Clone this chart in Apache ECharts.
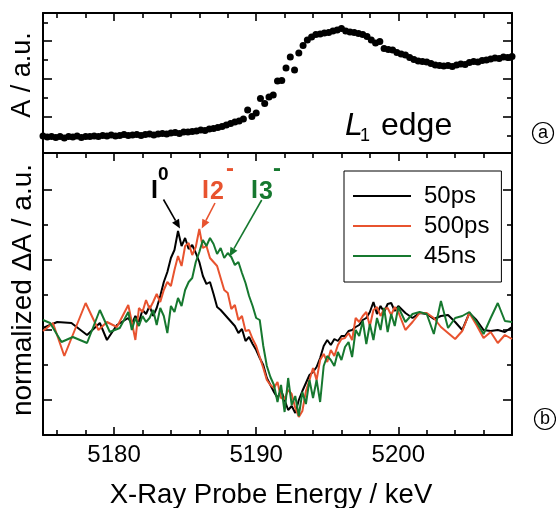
<!DOCTYPE html>
<html><head><meta charset="utf-8">
<script src="https://cdn.jsdelivr.net/npm/echarts@6/dist/echarts.min.js"></script>
<style>html,body{margin:0;padding:0;background:#fff}#c{width:556px;height:508px}</style>
</head><body><div id="c"></div>
<script>
const FONT = "'Liberation Sans', Arial, sans-serif";
const X_MIN = 5175, X_MAX = 5208;
const xMajorTicks = [5180, 5190, 5200];
const xMinorTicks = [5176, 5178, 5182, 5184, 5186, 5188, 5192, 5194, 5196, 5198, 5202, 5204, 5206];
const xTickLabels = [5180, 5190, 5200];

// top panel: absorption A (a.u.)
const TOP_MIN = -0.16, TOP_MAX = 1.24;
const topLongTicks = [0.202, 0.58, 0.958];
const topShortTicks = [0.013, 0.391, 0.769, 1.147];
const topEnergy = [5175.0,5175.3,5175.6,5175.9,5176.2,5176.5,5176.8,5177.1,5177.4,5177.7,5178.0,5178.3,5178.6,5178.9,5179.2,5179.5,5179.8,5180.1,5180.4,5180.7,5181.0,5181.3,5181.6,5181.9,5182.2,5182.5,5182.8,5183.1,5183.4,5183.7,5184.0,5184.3,5184.6,5184.9,5185.2,5185.5,5185.8,5186.1,5186.4,5186.7,5187.0,5187.3,5187.6,5187.9,5188.2,5188.5,5188.8,5189.1,5189.4,5189.7,5190.0,5190.3,5190.6,5190.9,5191.2,5191.5,5191.8,5192.1,5192.4,5192.7,5193.0,5193.3,5193.6,5193.9,5194.2,5194.5,5194.8,5195.1,5195.4,5195.7,5196.0,5196.3,5196.6,5196.9,5197.2,5197.5,5197.8,5198.1,5198.4,5198.7,5199.0,5199.3,5199.6,5199.9,5200.2,5200.5,5200.8,5201.1,5201.4,5201.7,5202.0,5202.3,5202.6,5202.9,5203.2,5203.5,5203.8,5204.1,5204.4,5204.7,5205.0,5205.3,5205.6,5205.9,5206.2,5206.5,5206.8,5207.1,5207.4,5207.7,5208.0];
const topAbsorbance = [0.01,0.00,0.005,-0.005,0.005,-0.01,0.005,0.00,0.01,-0.005,0.005,
  0.005,0.01,0.005,0.015,0.01,0.02,0.01,0.015,0.025,0.015,
  0.02,0.025,0.015,0.025,0.03,0.02,0.03,0.035,0.03,0.04,
  0.045,0.035,0.05,0.05,0.055,0.06,0.07,0.065,0.08,0.085,
  0.095,0.105,0.12,0.135,0.15,0.16,0.18,0.27,0.205,0.24,
  0.385,0.335,0.40,0.42,0.56,0.565,0.69,0.80,0.67,0.84,
  0.915,0.97,1.00,1.025,1.03,1.04,1.045,1.06,1.07,1.085,
  1.06,1.05,1.045,1.035,1.025,1.005,0.97,0.94,0.955,0.885,
  0.875,0.87,0.845,0.83,0.82,0.795,0.775,0.76,0.755,0.75,
  0.735,0.72,0.715,0.71,0.715,0.705,0.72,0.73,0.725,0.745,
  0.755,0.75,0.765,0.77,0.78,0.79,0.785,0.80,0.795,0.805];

// bottom panel: normalized dA (a.u.)
const BOT_MIN = -1.10, BOT_MAX = 1.72;
const botLongTicks = [-0.75, -0.05, 0.65, 1.35];
const botShortTicks = [-0.40, 0.30, 1.00];
const seriesNames = ['50ps', '500ps', '45ns'];
const preEnergy50 = [5175.0, 5176.0, 5177.0, 5178.1, 5179.0, 5179.5, 5180.2];
const preDA50 = [-0.03, 0.03, 0.02, -0.10, 0.02, -0.15, 0.00];
const preEnergy500 = [5175.0, 5175.7, 5176.5, 5178.0, 5178.9, 5179.5, 5180.2];
const preDA500 = [-0.06, 0.02, -0.31, 0.22, -0.05, 0.03, -0.02];
const preEnergy45 = [5175.0, 5175.5, 5176.3, 5177.1, 5178.1, 5179.0, 5179.7, 5180.4];
const preDA45 = [0.05, 0.02, -0.17, -0.12, -0.18, 0.15, -0.07, -0.03];
const scanEnergy = [5181.00,5181.25,5181.50,5181.75,5182.00,5182.25,5182.50,5182.75,5183.00,5183.25,5183.50,5183.75,5184.00,5184.25,5184.50,5184.75,5185.00,5185.25,5185.50,5185.75,5186.00,5186.25,5186.50,5186.75,5187.00,5187.25,5187.50,5187.75,5188.00,5188.25,5188.50,5188.75,5189.00,5189.25,5189.50,5189.75,5190.00,5190.25,5190.50,5190.75,5191.00,5191.25,5191.50,5191.75,5192.00,5192.25,5192.50,5192.75,5193.00,5193.25,5193.50,5193.75,5194.00,5194.25,5194.50,5194.75,5195.00,5195.25,5195.50,5195.75,5196.00,5196.25,5196.50,5196.75,5197.00,5197.25,5197.50,5197.75,5198.00,5198.25,5198.50,5198.75,5199.00,5199.25,5199.50,5199.75,5200.00,
  5200.5,5201.0,5201.5,5202.0,5202.5,5203.0,5203.5,5204.0,5204.5,5205.0,5205.5,5206.0,5206.5,5207.0,5207.5,5208.0];
const scanDA50 = [0.07,0.01,0.09,0.03,0.15,0.11,0.19,0.09,0.17,0.29,
  0.43,0.53,0.67,0.75,0.94,0.79,0.87,0.76,0.80,0.72,
  0.63,0.49,0.41,0.43,0.31,0.18,0.15,0.11,0.07,0.03,
  -0.01,-0.08,-0.04,-0.16,-0.12,-0.19,-0.25,-0.33,-0.40,-0.53,
  -0.60,-0.67,-0.73,-0.65,-0.75,-0.85,-0.81,-0.88,-0.75,-0.66,
  -0.58,-0.50,-0.47,-0.42,-0.33,-0.21,-0.15,-0.20,-0.14,-0.16,
  -0.11,-0.11,-0.06,-0.05,-0.02,0.00,0.05,0.07,0.13,0.23,
  0.11,0.19,0.13,0.21,0.22,0.14,0.19,
  0.12,0.07,0.12,0.11,0.06,0.09,0.10,0.03,-0.05,0.12,0.05,-0.05,-0.06,-0.05,-0.07,-0.02];
const scanDA500 = [0.20,0.03,-0.15,0.17,0.13,0.25,0.16,0.23,0.31,0.23,
  0.35,0.43,0.39,0.55,0.69,0.59,0.79,0.82,0.70,0.78,
  0.96,0.77,0.79,0.67,0.63,0.59,0.47,0.35,0.32,0.16,
  0.20,0.05,0.09,-0.06,-0.05,-0.14,-0.21,-0.32,-0.43,-0.55,
  -0.60,-0.63,-0.57,-0.73,-0.74,-0.65,-0.69,-0.83,-0.92,-0.86,
  -0.66,-0.55,-0.43,-0.55,-0.35,-0.29,-0.37,-0.25,-0.31,-0.20,
  -0.14,-0.13,-0.08,-0.15,0.07,0.03,0.09,0.13,-0.01,0.15,
  0.18,0.09,0.16,0.17,0.10,0.18,0.13,
  -0.05,0.03,0.12,0.12,0.07,-0.02,-0.08,-0.14,-0.06,0.12,0.00,-0.13,-0.07,-0.18,-0.10,-0.14];
const scanDA45 = [0.13,-0.05,0.07,-0.01,0.09,0.03,0.07,0.15,0.00,0.17,
  0.09,-0.08,0.19,0.13,0.27,0.19,0.35,0.43,0.47,0.63,
  0.73,0.85,0.79,0.87,0.81,0.71,0.77,0.67,0.72,0.68,
  0.60,0.63,0.52,0.42,0.29,0.19,0.07,0.05,-0.21,-0.41,
  -0.52,-0.60,-0.77,-0.60,-0.87,-0.53,-0.80,-0.71,-0.91,-0.67,
  -0.79,-0.55,-0.73,-0.55,-0.77,-0.41,-0.31,-0.35,-0.41,-0.27,
  -0.35,-0.22,-0.17,-0.32,-0.05,-0.11,0.04,-0.19,0.01,-0.15,
  0.07,-0.05,0.17,-0.07,0.11,-0.01,0.18,
  0.03,0.11,0.13,0.11,-0.09,0.24,-0.03,0.07,0.09,0.13,0.03,-0.09,0.07,0.22,0.04,0.03];

const COL_50 = '#000000', COL_500 = '#E8532F', COL_45 = '#16782F';

function zip(xs, ys) { return xs.map((x, i) => [x, ys[i]]); }
function xAx(grid, pos, ticks, len, line, labels) {
  return {type: 'value', gridIndex: grid, position: pos, min: X_MIN, max: X_MAX,
    axisLine: {show: line, onZero: false, lineStyle: {color: '#000', width: 2}},
    axisTick: {show: ticks.length > 0, inside: true, length: len, customValues: ticks, lineStyle: {color: '#000', width: 1.6}},
    axisLabel: labels ? {show: true, customValues: xTickLabels, margin: 8, color: '#000', fontSize: 24, fontFamily: FONT,
      formatter: v => String(v)} : {show: false},
    splitLine: {show: false}};
}
function yAx(grid, pos, min, max, ticks, len, line) {
  return {type: 'value', gridIndex: grid, position: pos, min: min, max: max,
    axisLine: {show: line, onZero: false, lineStyle: {color: '#000', width: 2}},
    axisTick: {show: true, inside: true, length: len, customValues: ticks, lineStyle: {color: '#000', width: 1.6}},
    axisLabel: {show: false}, splitLine: {show: false}};
}
function arrow(x1, y1, x2, y2, color) {
  const dx = x2 - x1, dy = y2 - y1, L = Math.hypot(dx, dy), ux = dx / L, uy = dy / L;
  const hl = 9, hw = 4;
  const bx = x2 - ux * hl, by = y2 - uy * hl;
  return [
    {type: 'line', shape: {x1: x1, y1: y1, x2: bx, y2: by}, style: {stroke: color, lineWidth: 1.6}},
    {type: 'polygon', shape: {points: [[x2, y2], [bx - uy * hw, by + ux * hw], [bx + uy * hw, by - ux * hw]]}, style: {fill: color}}
  ];
}
const T = (x, y, text, font, color, extra) => ({type: 'text', x: x, y: y, style: Object.assign({text: text, font: font, fill: color, align: 'left', verticalAlign: 'middle'}, extra || {})});

const chart = echarts.init(document.getElementById('c'), null, {renderer: 'canvas'});
chart.setOption({
  animation: false,
  backgroundColor: '#fff',
  grid: [
    {left: 43, right: 44, top: 13, height: 140},
    {left: 43, right: 44, top: 153, height: 282}
  ],
  xAxis: [
    xAx(0, 'bottom', [], 0, true, false),
    xAx(0, 'top', xMajorTicks, 8, true, false),
    xAx(0, 'top', xMinorTicks, 5, false, false),
    xAx(1, 'bottom', xMajorTicks, 8, true, true),
    xAx(1, 'bottom', xMinorTicks, 5, false, false),
    xAx(1, 'top', xMajorTicks, 8, true, false),
    xAx(1, 'top', xMinorTicks, 5, false, false)
  ],
  yAxis: [
    yAx(0, 'left', TOP_MIN, TOP_MAX, topLongTicks, 9, true),
    yAx(0, 'left', TOP_MIN, TOP_MAX, topShortTicks, 5, false),
    yAx(0, 'right', TOP_MIN, TOP_MAX, topLongTicks, 9, true),
    yAx(0, 'right', TOP_MIN, TOP_MAX, topShortTicks, 5, false),
    yAx(1, 'left', BOT_MIN, BOT_MAX, botLongTicks, 9, true),
    yAx(1, 'left', BOT_MIN, BOT_MAX, botShortTicks, 5, false),
    yAx(1, 'right', BOT_MIN, BOT_MAX, botLongTicks, 9, true),
    yAx(1, 'right', BOT_MIN, BOT_MAX, botShortTicks, 5, false)
  ],
  legend: {
    data: seriesNames, orient: 'vertical', left: 344, top: 171,
    icon: 'rect', itemWidth: 58, itemHeight: 2.2, itemGap: 6, padding: [13, 12, 14, 9],
    borderColor: '#000', borderWidth: 1, selectedMode: false,
    textStyle: {fontFamily: FONT, fontSize: 24, color: '#000', lineHeight: 24, padding: [0, 0, 0, 8]}
  },
  series: [
    {type: 'scatter', xAxisIndex: 0, yAxisIndex: 0, data: zip(topEnergy, topAbsorbance),
     symbolSize: 7, itemStyle: {color: '#000', opacity: 1}, silent: true},
    {type: 'line', name: seriesNames[0], xAxisIndex: 3, yAxisIndex: 4,
     data: zip(preEnergy50, preDA50).concat(zip(scanEnergy, scanDA50)),
     symbol: 'none', lineStyle: {color: COL_50, width: 2}, itemStyle: {color: COL_50}},
    {type: 'line', name: seriesNames[1], xAxisIndex: 3, yAxisIndex: 4,
     data: zip(preEnergy500, preDA500).concat(zip(scanEnergy, scanDA500)),
     symbol: 'none', lineStyle: {color: COL_500, width: 2}, itemStyle: {color: COL_500}},
    {type: 'line', name: seriesNames[2], xAxisIndex: 3, yAxisIndex: 4,
     data: zip(preEnergy45, preDA45).concat(zip(scanEnergy, scanDA45)),
     symbol: 'none', lineStyle: {color: COL_45, width: 2}, itemStyle: {color: COL_45}}
  ],
  graphic: [
    T(271, 495, 'X-Ray Probe Energy / keV', '27.5px ' + FONT, '#000', {align: 'center'}),
    {type: 'text', x: 22.5, y: 75, rotation: Math.PI / 2, style: {text: 'A / a.u.', font: '27px ' + FONT, fill: '#000', align: 'center', verticalAlign: 'middle'}},
    {type: 'text', x: 23, y: 290, rotation: Math.PI / 2, style: {text: 'normalized \u0394A / a.u.', font: '28px ' + FONT, fill: '#000', align: 'center', verticalAlign: 'middle'}},
    T(345, 126, 'L', 'italic 32px ' + FONT, '#000'),
    T(360, 136, '1', '18px ' + FONT, '#000'),
    T(381, 126, 'edge', '32px ' + FONT, '#000'),
    {type: 'circle', shape: {cx: 543, cy: 133, r: 10.5}, style: {fill: 'none', stroke: '#000', lineWidth: 1.2}},
    T(543, 133, 'a', '18px ' + FONT, '#000', {align: 'center'}),
    {type: 'circle', shape: {cx: 545, cy: 419, r: 10.5}, style: {fill: 'none', stroke: '#000', lineWidth: 1.2}},
    T(545, 419, 'b', '18px ' + FONT, '#000', {align: 'center'}),
    T(151, 191, 'I', 'bold 25px ' + FONT, COL_50),
    T(158, 175, '0', 'bold 19px ' + FONT, COL_50),
    T(202, 191, 'I', 'bold 25px ' + FONT, COL_500),
    T(210, 192, '2', 'bold 25px ' + FONT, COL_500),
    T(226, 169, '-', 'bold 24px ' + FONT, COL_500),
    T(251, 191, 'I', 'bold 25px ' + FONT, COL_45),
    T(259, 192, '3', 'bold 25px ' + FONT, COL_45),
    T(273, 169, '-', 'bold 24px ' + FONT, COL_45)
  ].concat(arrow(163.5, 199.5, 180, 228.5, COL_50))
   .concat(arrow(215, 203, 201.7, 228.5, COL_500))
   .concat(arrow(261.7, 200, 229.5, 256.5, COL_45))
});
</script></body></html>
